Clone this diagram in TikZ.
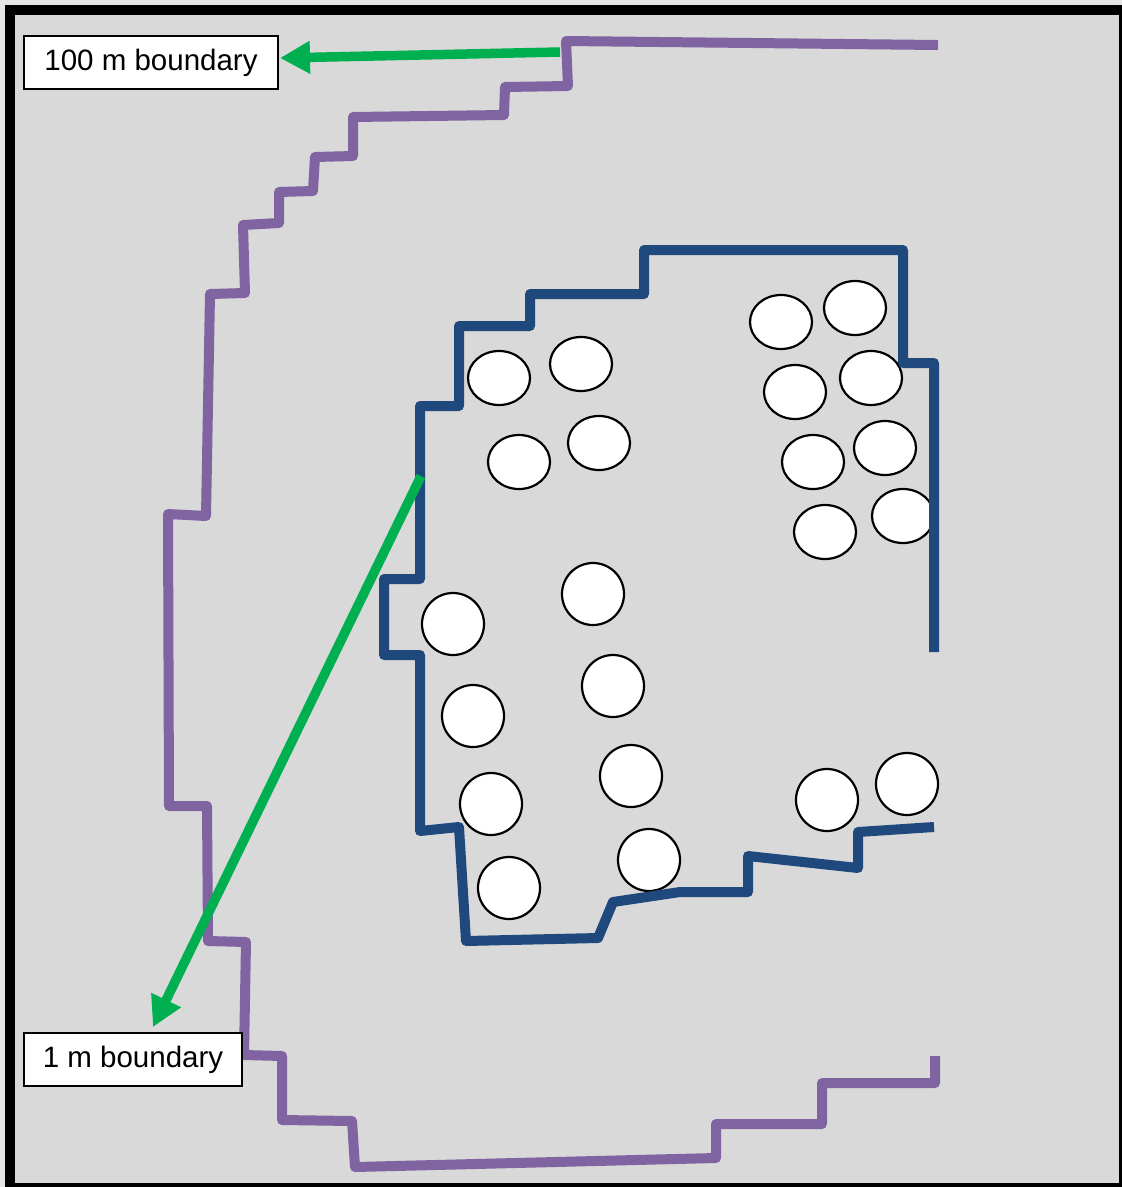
\documentclass[tikz,border=0pt]{standalone}
\usepackage{fontspec}
\setmainfont{Liberation Sans}
\usetikzlibrary{arrows.meta,calc}
\definecolor{bgfill}{HTML}{D9D9D9}
\definecolor{outerbg}{HTML}{E6E6E6}
\definecolor{purp}{HTML}{8064A2}
\definecolor{navyb}{HTML}{1F497D}
\definecolor{grn}{HTML}{00B050}
\begin{document}
\begin{tikzpicture}[x=1pt,y=-1pt,
  outerline/.style={line width=10pt,draw=purp,line join=round,line cap=butt},
  innerline/.style={line width=10pt,draw=navyb,line join=round,line cap=butt},
  pointer/.style={line width=9.5pt,draw=grn,line cap=butt,-{Triangle[length=30pt,width=31pt,fill=grn]}},
  labelbox/.style={draw=black,line width=2pt,fill=white,inner sep=0pt,minimum height=53pt,font=\fontsize{29.5}{35}\selectfont},
  tree/.style={draw=black,line width=2.2pt,fill=white}
]
\useasboundingbox (0,0) rectangle (1122,1187);
\fill[outerbg] (0,0) rectangle (1122,1187);
\fill[black] (5,5) rectangle (1122,1187);
\fill[bgfill] (15,15) rectangle (1119,1183);

% 100 m boundary (purple)
\draw[outerline] (938,45) -- (566,41) -- (568,86) -- (505,87) -- (504,115) -- (353,117)
  -- (353,156) -- (315,157) -- (313,191) -- (279,192) -- (279,223) -- (243,225)
  -- (245,293) -- (210,294) -- (206,516) -- (168,514) -- (169,806) -- (207,806)
  -- (208,941) -- (246,942) -- (244,1055) -- (282,1056) -- (282,1120) -- (352,1121)
  -- (355,1167) -- (716,1158) -- (716,1124) -- (822,1124) -- (822,1083) -- (935,1083)
  -- (935,1056);

% trees
\foreach \p in {(499,378),(581,364),(519,462),(599,443),(781,322),(855,308),
                (795,392),(871,378),(813,462),(885,448),(825,532),(903,516)}
  \path[tree] \p ellipse [x radius=31pt, y radius=27pt];
\foreach \p in {(593,594),(453,624),(613,686),(473,716),(631,776),(491,804),
                (649,860),(509,888),(827,800),(907,784)}
  \path[tree] \p circle [radius=31pt];

% 1 m boundary (blue)
\draw[innerline] (934,652) -- (934,363) -- (903,363) -- (903,250) -- (644,250)
  -- (644,294) -- (530,294) -- (530,326) -- (459,326) -- (459,406) -- (420,406)
  -- (420,579) -- (384,579) -- (384,655) -- (420,655) -- (420,831) -- (459,827)
  -- (466,941) -- (598,938) -- (613,902) -- (680,892) -- (748,892) -- (748,856)
  -- (858,868) -- (858,832) -- (934,827);

% labels
\node[labelbox,minimum width=254pt] (lab100) at (151,62.5) {100 m boundary};
\node[labelbox,minimum width=218pt] (lab1) at (133,1059.5) {1 m boundary};

% pointers
\coordinate (a1s) at (560,52);
\coordinate (a1e) at ($(lab100.east)+(1,-4.5)$);
\coordinate (a2s) at (421,476);
\coordinate (a2e) at ($(lab1.north)+(20,-5)$);
\draw[pointer] (a1s) -- (a1e);
\draw[pointer] (a2s) -- (a2e);
\end{tikzpicture}
\end{document}
